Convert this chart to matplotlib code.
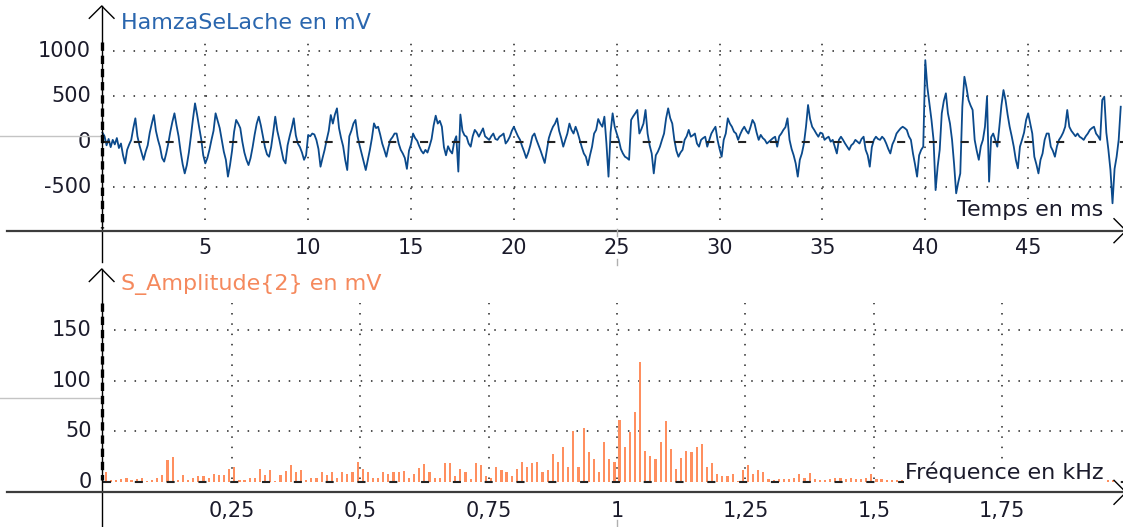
import numpy as np
import matplotlib.pyplot as plt

plt.rcParams['font.family'] = 'DejaVu Sans'
plt.rcParams['lines.scale_dashes'] = False

#%% donnees lues sur le graphique
# signal HamzaSeLache (mV), une valeur toutes les 0,1 ms
pas_ms = 0.1
signal_mV = [
    100, 60, -40, 30, -60, 20, -30, 40, -70, -20,
    -150, -240, -90, -30, 20, 150, 258, 60, -40, -120,
    -200, -110, -40, 100, 200, 294, 120, 20, -60, -180,
    -220, -130, -20, 110, 220, 313, 180, 60, -110, -250,
    -350, -260, -120, 60, 250, 423, 300, 160, 30, -150,
    -240, -180, -90, 20, 120, 313, 230, 150, 20, -110,
    -200, -386, -260, -100, 110, 240, 200, 150, 0, -120,
    -200, -258, -180, -60, 80, 200, 276, 180, 60, -60,
    -140, -166, -60, 100, 276, 120, 20, -90, -200, -240,
    -40, 60, 150, 258, 70, -20, -60, -120, -200, -150,
    74, 60, 90, 80, 20, -80, -276, -180, -90, 20,
    120, 294, 200, 300, 368, 150, 40, -50, -200, -313,
    60, 120, 200, 240, 60, -40, -130, -220, -313, -200,
    -90, 40, 202, 150, 165, 80, -20, -90, -166, -60,
    20, 50, 90, 90, -20, -90, -130, -180, -300, -100,
    -30, 90, 40, 10, -50, -100, -130, -90, -120, -50,
    30, 180, 287, 200, 230, 165, -60, -150, -50, -100,
    -130, 0, 60, -330, 300, 120, 70, 55, -20, -55,
    60, 130, 100, 55, 100, 147, 60, 40, 20, 60,
    90, 30, 20, 55, 70, 90, -20, 10, 55, 120,
    165, 110, 60, 20, -50, -110, -180, -120, -40, 60,
    90, 20, -40, -100, -166, -235, -100, 40, 110, 165,
    200, 258, 120, 40, -55, 20, 90, 200, 130, 90,
    165, 100, 20, -60, -130, -166, -260, -150, -55, 90,
    130, 250, 200, 165, 276, -20, -386, 100, 313, 165,
    90, 20, -80, -130, -166, -180, -200, 240, 280, 313,
    350, 90, 140, 200, 350, 90, -40, -130, -350, -150,
    -110, -55, 20, 90, 258, 368, 260, 200, 20, -100,
    -166, -120, -90, 20, 60, 130, 55, 70, 90, -20,
    -55, 20, 40, 55, -55, 20, 90, 130, 165, 20,
    -80, -166, 20, 90, 258, 200, 165, 110, 90, 20,
    80, 130, 165, 120, 90, 160, 240, 200, 100, 20,
    75, 40, 20, -20, 0, 20, 40, 55, -55, 60,
    90, 130, 160, 258, 20, -80, -150, -240, -386, -200,
    -130, -20, 165, 405, 250, 165, 130, 90, 55, 100,
    90, 20, 40, 55, 0, 20, -55, -130, 20, 55,
    20, -20, -55, -90, -40, -20, 20, 0, -20, 30,
    55, -90, -150, -276, -60, 20, 55, 30, 20, 55,
    30, -20, -80, -130, -30, 20, 90, 120, 147, 165,
    150, 130, 60, 20, -130, -250, -386, -150, -90, -55,
    900, 600, 423, 240, 20, -534, -276, -90, 313, 450,
    534, 313, 200, 20, -250, -570, -450, -350, 386, 717,
    600, 460, 400, 350, 20, -100, -200, -50, 20, 165,
    497, -441, 50, 90, 20, -55, 165, 400, 570, 460,
    300, 165, 60, -55, -200, -294, -55, 20, 100, 240,
    313, 200, 90, -166, -250, -350, -200, -130, 20, 90,
    90, -55, -100, -166, -50, 20, 55, 100, 165, 350,
    165, 120, 90, 60, 90, 55, 40, 20, 60, 90,
    130, 150, 165, 90, 60, 20, 460, 497, 100, -90,
    -313, -680, -300, -166, 20, 386,
]
temps_ms = np.arange(len(signal_mV)) * pas_ms

# spectre S_Amplitude{2} (mV), une raie tous les 10 Hz
amplitude_mV = [
    9.5, 1.3, 1.5, 3, 3.6, 1.6, 3, 3.6, 1, 1.6,
    3.6, 6.2, 21.4, 24.7, 1.6, 6.2, 1.6, 3.6, 5.6, 5.6,
    3.6, 7.6, 6.2, 6.2, 12.8, 14.8, 1.6, 1.6, 3.6, 3.6,
    12.8, 6.2, 11.5, 1, 6.2, 10.9, 16.1, 9.5, 11.5, 1.6,
    3.6, 3.6, 9.5, 6.2, 9.5, 3.6, 9.5, 7.6, 9.5, 19.7,
    12.8, 9.5, 3.6, 3.6, 9.5, 7.6, 9.5, 9.5, 10.9, 3.6,
    7.6, 13.5, 18, 9.5, 3.6, 3.6,
    18.5, 18.5, 6, 13, 10, 2.6, 18.5, 17, 6, 4,
    15, 11.6, 10, 6, 13, 20, 15, 18.5, 20, 9.6,
    11.6, 27, 20, 34, 15, 50.7, 15, 53, 29, 22,
    10, 39, 22, 20, 61.6, 34, 49.7, 69, 119, 30.5,
    25, 22, 39, 60, 32, 13, 23.5, 30.5, 29, 34,
    37, 15, 18.5, 8, 6, 6, 8, 1, 11.6, 17,
    8, 11.6, 10, 2.6, 1.5, 3,
    2.3, 2.3, 4, 7.2, 4, 8.2, 2.3, 1.3, 1.3, 2.3,
    4, 4, 3, 4, 2.3, 3, 4, 7.2, 2.3, 3,
    1.6, 1.3, 1.3,
    2, 1.5, 2.5, 1, 2, 1.5, 3, 1, 2, 1.5,
    2, 1, 1.5, 2, 1, 2.5, 1.5, 1, 2, 1.5,
    1, 2, 1.5, 1, 2, 1.5, 1, 1.5, 2, 1,
    1.5, 1, 2, 1.5, 1, 1.5, 1, 2, 1.5, 1,
    2, 1.5,
]
freq_kHz = 0.005 + 0.01 * np.arange(len(amplitude_mV))

yticks_haut = [1000, 500, 0, -500]
xticks_haut = [5, 10, 15, 20, 25, 30, 35, 40, 45]
yticks_bas = [150, 100, 50, 0]
xticks_bas = [0.25, 0.5, 0.75, 1, 1.25, 1.5, 1.75]
xlabels_bas = ['0,25', '0,5', '0,75', '1', '1,25', '1,5', '1,75']

bleu = '#0b4a8c'
bleu_txt = '#2a66ae'
orange = '#ff8f5f'
orange_txt = '#f5895d'
txt = '#1b1b2b'
pointille = (0, (1.1, 6.3))
tirets_zero = (0, (5.8, 17.1))
fs = 15      # graduations
fs_lab = 16  # titres d'axes

#%% figure
W, H = 1123, 527
fig = plt.figure(figsize=(W / 100, H / 100), dpi=100)

# panneau du haut : signal en fonction du temps
ax1 = fig.add_axes([0, 1 - 260 / H, 1, 260 / H])
ax1.set_xlim(-4.98, 49.61)
ax1.set_ylim(-1306, 1564)
ax1.axis('off')
ax1.hlines([1000, 500, -500], 0.5, 49.6, colors='#333333', lw=1.2, linestyles=[pointille])
ax1.vlines(xticks_haut, -864, 1100, colors='#333333', lw=1.2, linestyles=[pointille])
ax1.plot(temps_ms, signal_mV, color=bleu, lw=1.3, zorder=3)
ax1.hlines(0, 0, 49.6, colors='#222222', lw=1.5, linestyles=[tirets_zero], zorder=4)
for v in yticks_haut:
    ax1.text(-0.56, v, str(v), ha='right', va='center', fontsize=fs, color=txt)
for t in xticks_haut:
    ax1.text(t, -1173, str(t), ha='center', va='center', fontsize=fs, color=txt)
ax1.text(0.88, 1244, 'HamzaSeLache en mV', ha='left', va='baseline', fontsize=fs_lab, color=bleu_txt)
ax1.text(48.64, -820, 'Temps en ms', ha='right', va='baseline', fontsize=fs_lab, color=txt,
         bbox=dict(facecolor='white', edgecolor='none', pad=1), zorder=6)

# panneau du bas : spectre
ax2 = fig.add_axes([0, 0, 1, 265 / H])
ax2.set_xlim(-0.2011, 1.985)
ax2.set_ylim(-44.9, 217.7)
ax2.axis('off')
ax2.hlines([150, 100, 50], 0.02, 1.985, colors='#333333', lw=1.2, linestyles=[pointille])
ax2.vlines(xticks_bas, 3, 177, colors='#333333', lw=1.2, linestyles=[pointille])
ax2.bar(freq_kHz, amplitude_mV, width=0.0042, color=orange, zorder=3)
ax2.hlines(0, 0, 1.985, colors='#222222', lw=1.5, linestyles=[tirets_zero], zorder=4)
for v in yticks_bas:
    ax2.text(-0.0226, v, str(v), ha='right', va='center', fontsize=fs, color=txt)
for f, lab in zip(xticks_bas, xlabels_bas):
    ax2.text(f, -28.7, lab, ha='center', va='center', fontsize=fs, color=txt)
ax2.text(0.034, 190, 'S_Amplitude{2} en mV', ha='left', va='baseline', fontsize=fs_lab, color=orange_txt)
ax2.text(1.948, 2.4, 'Fréquence en kHz', ha='right', va='baseline', fontsize=fs_lab, color=txt,
         bbox=dict(facecolor='white', edgecolor='none', pad=1), zorder=6)

# axes dessines a la main (coordonnees en pixels)
ov = fig.add_axes([0, 0, 1, 1])
ov.set_xlim(0, W)
ov.set_ylim(H, 0)
ov.axis('off')
ov.set_zorder(5)
# reperes gris a gauche
ov.plot([0, 101], [136, 136], color='#c4c4c4', lw=1)
ov.plot([0, 101], [398, 398], color='#c4c4c4', lw=1)
# axes verticaux
ov.plot([101.7, 101.7], [6, 262], color='k', lw=1)
ov.plot([101.7, 101.7], [269, 527], color='k', lw=1)
ov.plot([101.7, 101.7], [42, 228], color='k', lw=2.4, linestyle=(0, (6, 3.5)))
ov.plot([101.7, 101.7], [303, 480], color='k', lw=2.4, linestyle=(0, (6, 3.5)))
ov.plot([89.3, 101.7, 114], [18.3, 6, 18.3], color='k', lw=1)
ov.plot([89.3, 101.7, 114], [281.5, 269, 281.5], color='k', lw=1)
# axes horizontaux
ov.plot([7, 1123], [230.7, 230.7], color='#3c3c3c', lw=1.6)
ov.plot([7, 1123], [492.3, 492.3], color='#3c3c3c', lw=1.6)
ov.plot([1114, 1126, 1114], [218.7, 230.7, 242.7], color='k', lw=1)
ov.plot([1114, 1126, 1114], [480.3, 492.3, 504.3], color='k', lw=1)
# petit curseur gris
ov.plot([617, 617], [229, 236], color='#b0b0b0', lw=1)
ov.plot([617, 617], [259, 265], color='#b0b0b0', lw=1)
ov.plot([617, 617], [520, 527], color='#b0b0b0', lw=1)

fig.savefig('out.png', dpi=100)
